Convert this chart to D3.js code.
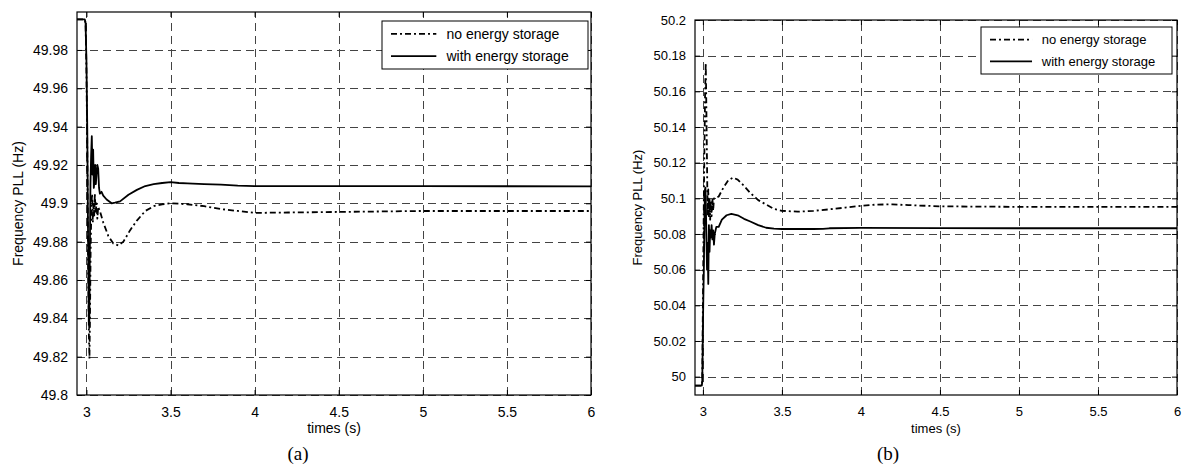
<!DOCTYPE html>
<html><head><meta charset="utf-8">
<script src="https://cdn.jsdelivr.net/npm/d3@7"></script>
<style>body{margin:0;background:#fff}svg{display:block}</style>
</head><body>
<svg id="chart" width="1182" height="468"></svg>
<script>
// ---------- DATA ----------
const seriesNames = ["no energy storage", "with energy storage"];
const xTicks = [3, 3.5, 4, 4.5, 5, 5.5, 6];
const xTickLabels = ["3", "3.5", "4", "4.5", "5", "5.5", "6"];
const yTicksA = [49.8, 49.82, 49.84, 49.86, 49.88, 49.9, 49.92, 49.94, 49.96, 49.98];
const yTickLabelsA = ["49.8", "49.82", "49.84", "49.86", "49.88", "49.9", "49.92", "49.94", "49.96", "49.98"];
const yTicksB = [50, 50.02, 50.04, 50.06, 50.08, 50.1, 50.12, 50.14, 50.16, 50.18, 50.2];
const yTickLabelsB = ["50", "50.02", "50.04", "50.06", "50.08", "50.1", "50.12", "50.14", "50.16", "50.18", "50.2"];
const xLabel = "times (s)";
const yLabel = "Frequency PLL (Hz)";
const panelCaptions = ["(a)", "(b)"];

// (a) no energy storage
const tA_no = [2.944, 2.990, 2.995, 3.000, 3.005, 3.010, 3.015, 3.018, 3.021, 3.025, 3.030, 3.034, 3.038, 3.042, 3.046, 3.050, 3.055, 3.060, 3.065, 3.070, 3.080, 3.100, 3.130, 3.160, 3.190, 3.220, 3.260, 3.300, 3.350, 3.400, 3.450, 3.500, 3.550, 3.600, 3.700, 3.800, 3.900, 4.000, 4.200, 4.500, 5.000, 6.000];
const fA_no = [49.996, 49.996, 49.994, 49.970, 49.930, 49.870, 49.830, 49.819, 49.840, 49.875, 49.900, 49.905, 49.890, 49.900, 49.893, 49.905, 49.895, 49.900, 49.892, 49.898, 49.896, 49.890, 49.883, 49.879, 49.878, 49.880, 49.886, 49.891, 49.896, 49.8985, 49.8995, 49.900, 49.8998, 49.8995, 49.8985, 49.897, 49.896, 49.895, 49.8952, 49.8955, 49.896, 49.896];
// (a) with energy storage
const tA_with = [2.944, 2.990, 2.995, 3.000, 3.005, 3.010, 3.014, 3.017, 3.020, 3.024, 3.028, 3.032, 3.036, 3.040, 3.044, 3.048, 3.052, 3.056, 3.060, 3.065, 3.070, 3.075, 3.080, 3.090, 3.100, 3.120, 3.150, 3.170, 3.200, 3.250, 3.300, 3.350, 3.400, 3.450, 3.500, 3.550, 3.600, 3.700, 3.800, 3.900, 4.000, 5.000, 6.000];
const fA_with = [49.996, 49.996, 49.994, 49.975, 49.940, 49.880, 49.840, 49.835, 49.870, 49.910, 49.925, 49.935, 49.915, 49.928, 49.908, 49.912, 49.920, 49.910, 49.915, 49.920, 49.918, 49.908, 49.905, 49.906, 49.904, 49.902, 49.900, 49.9003, 49.901, 49.9045, 49.907, 49.909, 49.910, 49.9106, 49.911, 49.9106, 49.9104, 49.910, 49.9097, 49.9092, 49.909, 49.909, 49.9088];
// (b) no energy storage
const tB_no = [2.950, 2.993, 2.996, 2.999, 3.002, 3.006, 3.010, 3.014, 3.018, 3.022, 3.026, 3.030, 3.034, 3.038, 3.042, 3.046, 3.050, 3.055, 3.060, 3.065, 3.070, 3.080, 3.100, 3.130, 3.160, 3.190, 3.220, 3.260, 3.300, 3.350, 3.400, 3.450, 3.500, 3.600, 3.700, 3.800, 3.900, 4.000, 4.100, 4.200, 4.300, 4.500, 5.000, 5.500, 6.000];
const fB_no = [49.995, 49.995, 49.998, 50.030, 50.060, 50.100, 50.130, 50.160, 50.176, 50.150, 50.120, 50.090, 50.105, 50.090, 50.100, 50.088, 50.099, 50.090, 50.100, 50.093, 50.100, 50.100, 50.101, 50.106, 50.110, 50.1116, 50.1105, 50.107, 50.103, 50.099, 50.0965, 50.094, 50.093, 50.0925, 50.093, 50.0938, 50.0948, 50.0958, 50.0965, 50.0966, 50.0962, 50.0955, 50.0952, 50.0952, 50.0952];
// (b) with energy storage
const tB_with = [2.950, 2.993, 2.996, 2.999, 3.002, 3.006, 3.010, 3.013, 3.016, 3.019, 3.022, 3.026, 3.030, 3.034, 3.038, 3.042, 3.046, 3.050, 3.055, 3.060, 3.065, 3.070, 3.075, 3.085, 3.100, 3.120, 3.150, 3.180, 3.220, 3.260, 3.300, 3.350, 3.400, 3.450, 3.500, 3.700, 3.760, 3.800, 4.000, 4.500, 5.000, 5.500, 6.000];
const fB_with = [49.995, 49.995, 49.997, 50.020, 50.040, 50.060, 50.090, 50.105, 50.106, 50.095, 50.080, 50.060, 50.075, 50.052, 50.085, 50.070, 50.082, 50.078, 50.085, 50.077, 50.082, 50.074, 50.080, 50.084, 50.084, 50.088, 50.0905, 50.0913, 50.0905, 50.0885, 50.087, 50.085, 50.0835, 50.083, 50.0828, 50.0828, 50.0829, 50.0832, 50.0834, 50.0833, 50.0832, 50.0832, 50.0832];

// ---------- DRAW ----------
const svg = d3.select("#chart");
const FONT = "'Liberation Sans', Arial, Helvetica, sans-serif";

const panels = [
  { id: "a", left: 77, right: 591, top: 12, bottom: 395, xDom: [2.944, 6], yDom: [49.8, 49.9998],
    yTicks: yTicksA, yLabels: yTickLabelsA, fs: 14, ylabX: 18,
    series: [[tA_no, fA_no], [tA_with, fA_with]],
    leg: { x: 382, y: 21, w: 206, h: 48 }, capX: 298, caption: panelCaptions[0] },
  { id: "b", left: 695, right: 1177, top: 20, bottom: 395, xDom: [2.95, 6], yDom: [49.9897, 50.2],
    yTicks: yTicksB, yLabels: yTickLabelsB, fs: 13, ylabX: 637,
    series: [[tB_no, fB_no], [tB_with, fB_with]],
    leg: { x: 981, y: 27, w: 191, h: 47 }, capX: 888, caption: panelCaptions[1] }
];
const dashStyles = ["6,3,2,3", null];

panels.forEach(p => {
  const x = d3.scaleLinear().domain(p.xDom).range([p.left, p.right]);
  const y = d3.scaleLinear().domain(p.yDom).range([p.bottom, p.top]);
  const g = svg.append("g");

  g.append("clipPath").attr("id", "clip" + p.id)
    .append("rect").attr("x", p.left).attr("y", p.top)
    .attr("width", p.right - p.left).attr("height", p.bottom - p.top);

  // grid
  const grid = g.append("g").attr("stroke", "#444").attr("stroke-width", 1)
    .attr("stroke-dasharray", "8,5").attr("fill", "none");
  xTicks.forEach(t => grid.append("line").attr("x1", Math.round(x(t)) + 0.5).attr("x2", Math.round(x(t)) + 0.5)
    .attr("y1", p.bottom).attr("y2", p.top));
  p.yTicks.forEach(t => grid.append("line").attr("y1", Math.round(y(t)) + 0.5).attr("y2", Math.round(y(t)) + 0.5)
    .attr("x1", p.left).attr("x2", p.right));

  // lines
  const line = d3.line().x(d => x(d[0])).y(d => y(d[1]));
  p.series.forEach((s, i) => {
    const pts = s[0].map((t, k) => [t, s[1][k]]);
    g.append("path").datum(pts).attr("d", line)
      .attr("clip-path", `url(#clip${p.id})`)
      .attr("fill", "none").attr("stroke", "#000").attr("stroke-width", 1.8)
      .attr("stroke-linejoin", "round")
      .attr("stroke-dasharray", dashStyles[i]);
  });

  // axes (d3 axes, inward ticks)
  const tl = 5;
  const axB = g.append("g").attr("transform", `translate(0,${p.bottom})`)
    .call(d3.axisBottom(x).tickValues(xTicks).tickFormat((d, i) => xTickLabels[i]).tickSize(-tl).tickPadding(tl + 7));
  const axT = g.append("g").attr("transform", `translate(0,${p.top})`)
    .call(d3.axisTop(x).tickValues(xTicks).tickFormat("").tickSize(-tl));
  const axL = g.append("g").attr("transform", `translate(${p.left},0)`)
    .call(d3.axisLeft(y).tickValues(p.yTicks).tickFormat((d, i) => p.yLabels[i]).tickSize(-tl).tickPadding(tl + 4));
  const axR = g.append("g").attr("transform", `translate(${p.right},0)`)
    .call(d3.axisRight(y).tickValues(p.yTicks).tickFormat("").tickSize(-tl));
  [axB, axT, axL, axR].forEach(a => {
    a.select(".domain").remove();
    a.selectAll("line").attr("stroke", "#000");
    a.selectAll("text").attr("fill", "#000").style("font-family", FONT).style("font-size", p.fs + "px");
  });
  g.append("rect").attr("x", p.left).attr("y", p.top)
    .attr("width", p.right - p.left).attr("height", p.bottom - p.top)
    .attr("fill", "none").attr("stroke", "#000").attr("stroke-width", 1.2);

  // labels
  g.append("text").attr("x", (p.left + p.right) / 2).attr("y", p.bottom + 38)
    .attr("text-anchor", "middle").style("font-family", FONT).style("font-size", p.fs + "px").text(xLabel);
  g.append("text").attr("transform", `translate(${p.ylabX},${(p.top + p.bottom) / 2}) rotate(-90)`)
    .attr("text-anchor", "middle").attr("dy", "0.35em")
    .style("font-family", FONT).style("font-size", p.fs + "px").text(yLabel);
  g.append("text").attr("x", p.capX).attr("y", 460).attr("text-anchor", "middle")
    .style("font-family", "'Liberation Serif','Times New Roman',serif").style("font-size", "19px").text(p.caption);

  // legend
  const L = p.leg;
  const lg = g.append("g");
  lg.append("rect").attr("x", L.x).attr("y", L.y).attr("width", L.w).attr("height", L.h)
    .attr("fill", "#fff").attr("stroke", "#000").attr("stroke-width", 1);
  seriesNames.forEach((name, i) => {
    const ry = L.y + L.h * (i === 0 ? 0.27 : 0.73);
    lg.append("line").attr("x1", L.x + 9).attr("x2", L.x + 9 + L.w * 0.22)
      .attr("y1", ry).attr("y2", ry).attr("stroke", "#000").attr("stroke-width", 1.8)
      .attr("stroke-dasharray", dashStyles[i]);
    lg.append("text").attr("x", L.x + 13 + L.w * 0.25).attr("y", ry).attr("dy", "0.35em")
      .style("font-family", FONT).style("font-size", p.fs + "px").text(name);
  });
});
</script>
</body></html>
